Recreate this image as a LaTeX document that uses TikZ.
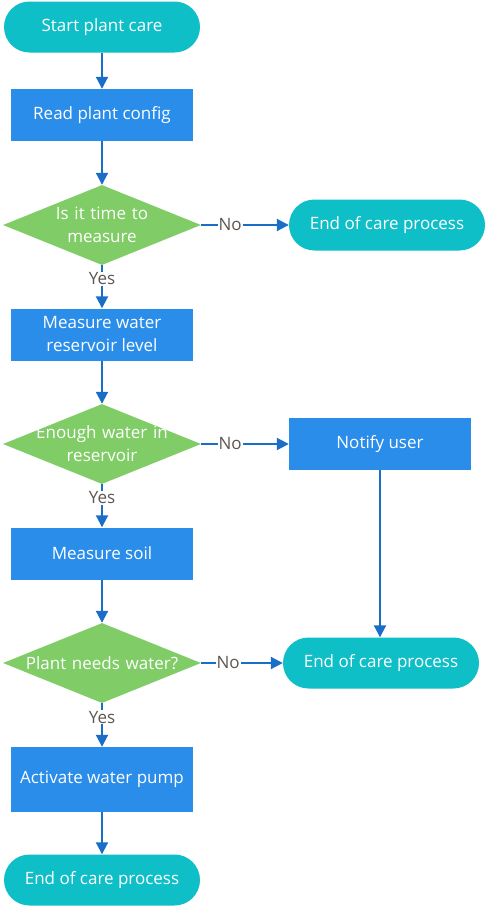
\documentclass[tikz,border=0pt]{standalone}
\usepackage{fontspec}
\setmainfont{Open Sans}
\usetikzlibrary{arrows.meta, shapes.geometric}
\definecolor{termteal}{HTML}{0EBFC8}
\definecolor{procblue}{HTML}{2A8DEA}
\definecolor{decgreen}{HTML}{80CC66}
\definecolor{flowblue}{HTML}{1A6EC6}
\definecolor{answergray}{HTML}{5E5650}

\begin{document}
\begin{tikzpicture}[x=1pt, y=-1pt,
  every node/.style={font=\fontsize{17}{23}\selectfont},
  terminal/.style={fill=termteal, text=white, rounded corners=25.5pt, minimum width=196pt, minimum height=51pt, inner sep=0pt},
  process/.style={fill=procblue, text=white, minimum width=182pt, minimum height=52pt, inner sep=0pt, align=center},
  decision/.style={diamond, fill=decgreen, text=white, shape aspect=2.475, minimum width=198pt, minimum height=80pt, inner xsep=-35pt, inner ysep=-3pt, text width=170pt, align=center},
  flow/.style={draw=flowblue, line width=2pt, -{Triangle[length=12pt,width=12pt]}},
  answer/.style={fill=white, text=answergray, inner sep=1pt}]
\useasboundingbox (0,0) rectangle (487,908);
% Main column
\node[terminal] (start) at (102,27) {Start plant care};
\node[process] (config) at (102,115) {Read plant config};
\node[decision] (time) at (102,225) {Is it time to\\measure};
\node[process] (reservoir) at (102,334.5) {Measure water\\reservoir level};
\node[decision] (enough) at (102,444) {Enough water in\\reservoir};
\node[process] (soil) at (102,553.5) {Measure soil};
\node[decision] (needs) at (102,663) {Plant needs water?};
\node[process, minimum height=65pt] (pump) at (102,779.5) {Activate water pump};
\node[terminal] (end3) at (102,880) {End of care process};
% Right column
\node[terminal] (end1) at (387,225) {End of care process};
\node[process] (notify) at (380,444) {Notify user};
\node[terminal] (end2) at (381,663) {End of care process};
% Draw connectors
\draw[flow] (start) -- (config);
\draw[flow] (config) -- (time);
\draw[flow] (time) -- node[answer, pos=0.32] {Yes} (reservoir);
\draw[flow] (time) -- node[answer, pos=0.33] {No} (end1);
\draw[flow] (reservoir) -- (enough);
\draw[flow] (enough) -- node[answer, pos=0.32] {Yes} (soil);
\draw[flow] (enough) -- node[answer, pos=0.33] {No} (notify);
\draw[flow] (notify.south) -- (notify.south |- end2.north);
\draw[flow] (soil) -- (needs);
\draw[flow] (needs) -- node[answer, pos=0.32] {Yes} (pump);
\draw[flow] (needs) -- node[answer, pos=0.33] {No} (end2);
\draw[flow] (pump) -- (end3);
\end{tikzpicture}
\end{document}
